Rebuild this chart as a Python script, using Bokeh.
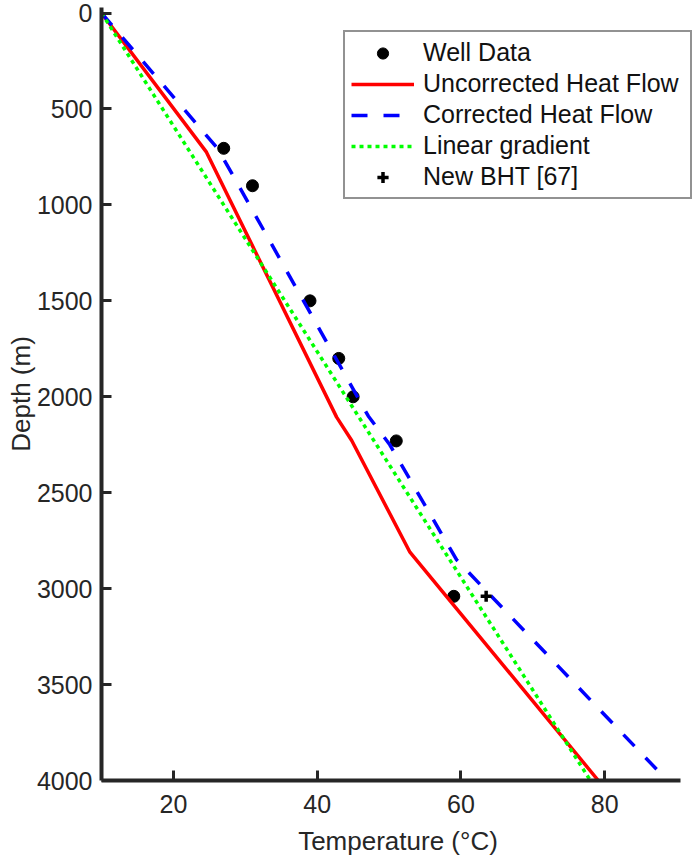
from bokeh.plotting import figure
from bokeh.models import Range1d, FixedTicker, Legend, LegendItem
from bokeh.embed import file_html
from bokeh.resources import INLINE

# ---- data ----
well_temp = [27, 31, 39, 43, 45, 51, 59]
well_depth = [705, 900, 1500, 1800, 2000, 2230, 3040]

uncorr_temp = [10, 24.6, 42.7, 44.8, 52.9, 79.1]
uncorr_depth = [0, 725, 2106, 2228, 2810, 4000]

corr_temp = [10, 26.2, 47.1, 50.1, 59.4, 87.8]
corr_depth = [0, 708, 2100, 2250, 2850, 3965]

lin_temp = [10, 78]
lin_depth = [0, 4000]

bht_temp = [63.5]
bht_depth = [3040]

x_ticks = [20, 40, 60, 80]
y_ticks = [0, 500, 1000, 1500, 2000, 2500, 3000, 3500, 4000]

FONT = "Liberation Sans"
AX = "#262626"

p = figure(width=698, height=859, output_backend="svg", toolbar_location=None,
           x_range=Range1d(10, 92.48), y_range=Range1d(4000, -29),
           min_border_left=101, min_border_right=4, min_border_top=7, min_border_bottom=79)
p.outline_line_color = None
p.grid.visible = False
p.background_fill_color = "white"
p.border_fill_color = "white"

r_well = p.scatter(well_temp, well_depth, marker="circle", size=12, color="black")
r_unc = p.line(uncorr_temp, uncorr_depth, line_color="#ff0000", line_width=3.5)
r_cor = p.line(corr_temp, corr_depth, line_color="#0000ff", line_width=3.5, line_dash="16 16")
r_lin = p.line(lin_temp, lin_depth, line_color="#00ff00", line_width=3.5, line_dash="4 4")
r_bht = p.scatter(bht_temp, bht_depth, marker="cross", size=11, line_width=3.5, color="black")

for ax in (p.xaxis[0], p.yaxis[0]):
    ax.axis_line_color = AX
    ax.axis_line_width = 4
    ax.major_tick_line_color = AX
    ax.major_tick_line_width = 3
    ax.major_tick_in = 10
    ax.major_tick_out = 0
    ax.minor_tick_line_color = None
    ax.major_label_text_font = FONT
    ax.major_label_text_font_size = "25px"
    ax.major_label_text_color = AX
    ax.axis_label_text_font = FONT
    ax.axis_label_text_font_size = "26px"
    ax.axis_label_text_font_style = "normal"
    ax.axis_label_text_color = AX

p.xaxis.ticker = FixedTicker(ticks=x_ticks)
p.yaxis.ticker = FixedTicker(ticks=y_ticks)
p.xaxis.bounds = (10, 90.5)
p.xaxis.axis_label = "Temperature (°C)"
p.yaxis.axis_label = "Depth (m)"
p.xaxis.major_label_standoff = 14
p.xaxis.axis_label_standoff = 10
p.yaxis.major_label_standoff = 9
p.yaxis.axis_label_standoff = -2

legend = Legend(items=[
    LegendItem(label="Well Data", renderers=[r_well]),
    LegendItem(label="Uncorrected Heat Flow", renderers=[r_unc]),
    LegendItem(label="Corrected Heat Flow", renderers=[r_cor]),
    LegendItem(label="Linear gradient", renderers=[r_lin]),
    LegendItem(label="New BHT [67]", renderers=[r_bht]),
], location=(242, 581))
legend.label_text_font = FONT
legend.label_text_font_size = "25px"
legend.label_text_color = "#111111"
legend.border_line_color = AX
legend.border_line_width = 2.5
legend.background_fill_color = "white"
legend.background_fill_alpha = 1
legend.padding = 6
legend.margin = 0
legend.spacing = 2
legend.glyph_width = 63
legend.glyph_height = 28
legend.label_height = 28
legend.label_standoff = 9
legend.label_width = 261
p.add_layout(legend)

open("out.html", "w").write(file_html(p, INLINE))
